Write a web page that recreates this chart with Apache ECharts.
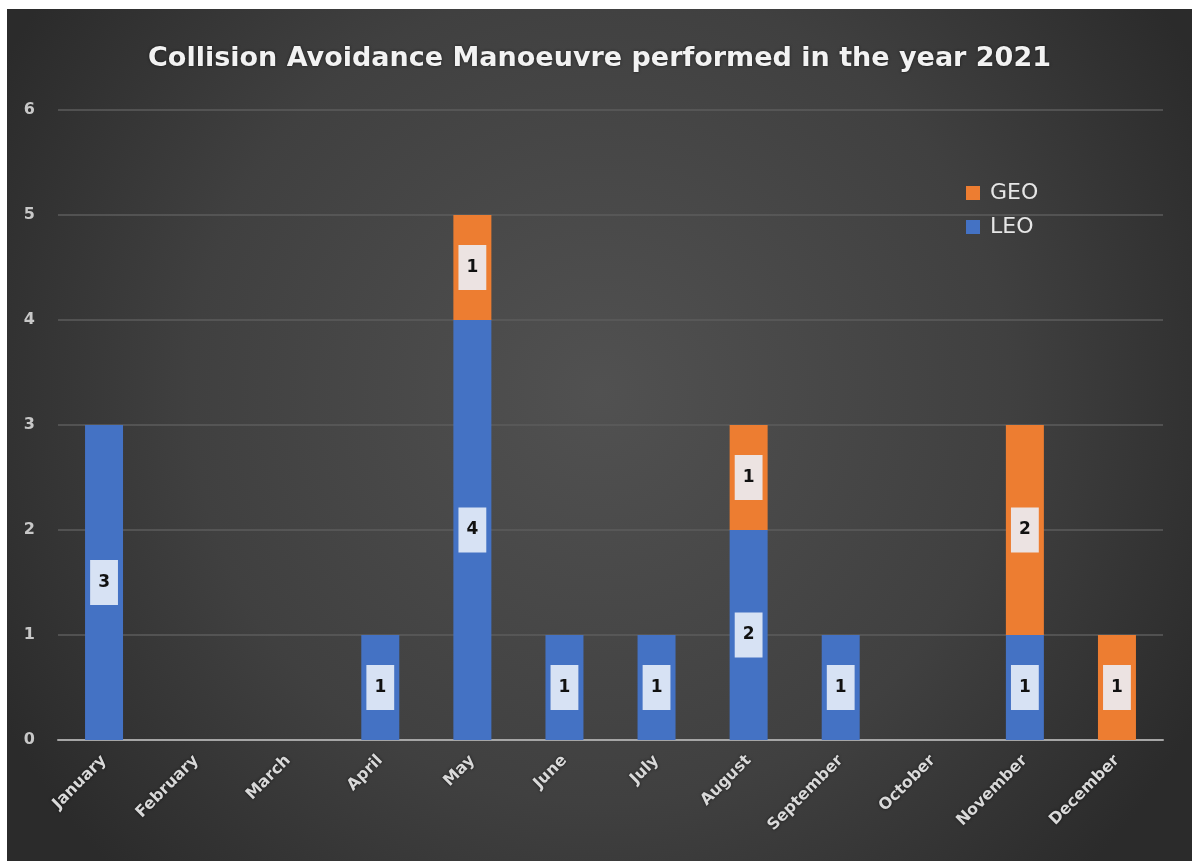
<!DOCTYPE html>
<html>
<head>
<meta charset="utf-8">
<script src="https://cdn.jsdelivr.net/npm/echarts@6/dist/echarts.min.js"></script>
<style>
  html, body { margin: 0; padding: 0; background: #ffffff; }
  #chart { position: absolute; left: 7px; top: 9px; width: 1185px; height: 852px; }
</style>
</head>
<body>
<div id="chart"></div>
<script>
// data
const months = ['January', 'February', 'March', 'April', 'May', 'June', 'July',
  'August', 'September', 'October', 'November', 'December'];
const leo = [3, null, null, 1, 4, 1, 1, 2, 1, null, 1, null];
const geo = [null, null, null, null, 1, null, null, 1, null, null, 2, 1];
const yTicks = [0, 1, 2, 3, 4, 5, 6];

const chart = echarts.init(document.getElementById('chart'));

// label box shared by both series
const segLabel = {
  show: true,
  position: 'inside',
  color: '#111',
  fontFamily: 'DejaVu Sans',
  fontWeight: 'bold',
  fontSize: 17,
  lineHeight: 18,
  backgroundColor: 'rgba(236,241,250,0.88)',
  padding: [14, 8, 13, 8]
};

const option = {
  backgroundColor: {
    type: 'radial', x: 0.5, y: 0.45, r: 0.8,
    colorStops: [
      { offset: 0, color: '#515151' },
      { offset: 0.6, color: '#404040' },
      { offset: 1, color: '#2b2b2b' }
    ]
  },
  title: {
    text: 'Collision Avoidance Manoeuvre performed in the year 2021',
    left: 'center',
    top: 31,
    textStyle: {
      color: '#f2f2f2',
      fontFamily: 'DejaVu Sans',
      fontWeight: 'bold',
      fontSize: 27,
      textShadowColor: 'rgba(0,0,0,0.6)',
      textShadowBlur: 3
    }
  },
  legend: {
    data: ['GEO', 'LEO'],
    orient: 'vertical',
    left: 954,
    top: 168,
    itemWidth: 14,
    itemHeight: 14,
    itemGap: 12,
    icon: 'rect',
    textStyle: {
      color: '#e6e6e6', fontFamily: 'DejaVu Sans', fontSize: 22,
      padding: [0, 0, 0, 5]
    }
  },
  grid: { left: 51, right: 29, top: 101, bottom: 121, containLabel: false },
  xAxis: {
    type: 'category',
    data: months,
    axisTick: { show: false },
    axisLine: { lineStyle: { color: '#a6a6a6', width: 2 } },
    axisLabel: {
      rotate: 45,
      interval: 0,
      margin: 18,
      color: '#d9d9d9',
      fontFamily: 'DejaVu Sans',
      fontWeight: 'bold',
      fontSize: 16,
      textShadowColor: 'rgba(0,0,0,0.7)',
      textShadowBlur: 3
    }
  },
  yAxis: {
    type: 'value',
    min: yTicks[0],
    max: yTicks[yTicks.length - 1],
    interval: 1,
    axisLine: { show: false },
    axisTick: { show: false },
    splitLine: { lineStyle: { color: '#5c5c5c', width: 1.5 } },
    axisLabel: {
      margin: 23,
      color: '#c8c8c8',
      fontFamily: 'DejaVu Sans',
      fontWeight: 'bold',
      fontSize: 16
    }
  },
  series: [
    {
      name: 'LEO',
      type: 'bar',
      stack: 'total',
      data: leo,
      barWidth: 38,
      itemStyle: { color: '#4472c4' },
      label: segLabel
    },
    {
      name: 'GEO',
      type: 'bar',
      stack: 'total',
      data: geo,
      barWidth: 38,
      itemStyle: { color: '#ed7d31' },
      label: segLabel
    }
  ]
};

chart.setOption(option);
window.addEventListener('resize', () => chart.resize());
</script>
</body>
</html>
